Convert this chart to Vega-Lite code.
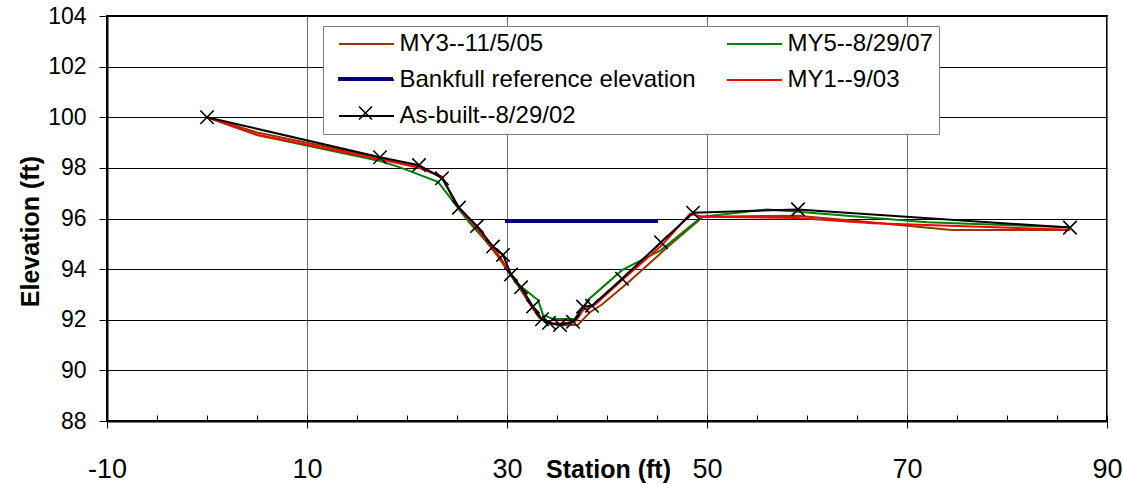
{
  "$schema": "https://vega.github.io/schema/vega-lite/v6.json",
  "width": 1000,
  "height": 405,
  "autosize": {"type": "none"},
  "padding": {"left": 107, "top": 16, "right": 16, "bottom": 63},
  "config": {
    "font": "Liberation Sans",
    "view": {"stroke": "#000000", "strokeWidth": 2}
  },
  "datasets": {
    "profile": [
      {"series": "Bankfull reference elevation", "station": 29.8, "elevation": 95.9},
      {"series": "Bankfull reference elevation", "station": 45.1, "elevation": 95.9},

      {"series": "MY3--11/5/05", "station": 0, "elevation": 100},
      {"series": "MY3--11/5/05", "station": 5, "elevation": 99.4},
      {"series": "MY3--11/5/05", "station": 17.3, "elevation": 98.4},
      {"series": "MY3--11/5/05", "station": 21.2, "elevation": 98.05},
      {"series": "MY3--11/5/05", "station": 23.5, "elevation": 97.65},
      {"series": "MY3--11/5/05", "station": 25.3, "elevation": 96.3},
      {"series": "MY3--11/5/05", "station": 27.2, "elevation": 95.45},
      {"series": "MY3--11/5/05", "station": 29.0, "elevation": 94.55},
      {"series": "MY3--11/5/05", "station": 30.5, "elevation": 93.7},
      {"series": "MY3--11/5/05", "station": 32.0, "elevation": 92.8},
      {"series": "MY3--11/5/05", "station": 33.2, "elevation": 92.1},
      {"series": "MY3--11/5/05", "station": 34.2, "elevation": 91.85},
      {"series": "MY3--11/5/05", "station": 35.5, "elevation": 91.78},
      {"series": "MY3--11/5/05", "station": 37.1, "elevation": 91.8},
      {"series": "MY3--11/5/05", "station": 38.3, "elevation": 92.3},
      {"series": "MY3--11/5/05", "station": 39.5, "elevation": 92.6},
      {"series": "MY3--11/5/05", "station": 42.2, "elevation": 93.5},
      {"series": "MY3--11/5/05", "station": 46.0, "elevation": 94.85},
      {"series": "MY3--11/5/05", "station": 49.6, "elevation": 96.07},
      {"series": "MY3--11/5/05", "station": 59.0, "elevation": 96.11},
      {"series": "MY3--11/5/05", "station": 65.0, "elevation": 95.9},
      {"series": "MY3--11/5/05", "station": 74.5, "elevation": 95.55},
      {"series": "MY3--11/5/05", "station": 86.3, "elevation": 95.55},

      {"series": "MY5--8/29/07", "station": 0, "elevation": 100},
      {"series": "MY5--8/29/07", "station": 5.0, "elevation": 99.3},
      {"series": "MY5--8/29/07", "station": 17.3, "elevation": 98.27},
      {"series": "MY5--8/29/07", "station": 19.3, "elevation": 98.02},
      {"series": "MY5--8/29/07", "station": 23.1, "elevation": 97.45},
      {"series": "MY5--8/29/07", "station": 26.3, "elevation": 95.81},
      {"series": "MY5--8/29/07", "station": 29.3, "elevation": 94.49},
      {"series": "MY5--8/29/07", "station": 30.8, "elevation": 93.5},
      {"series": "MY5--8/29/07", "station": 33.1, "elevation": 92.78},
      {"series": "MY5--8/29/07", "station": 33.6, "elevation": 92.19},
      {"series": "MY5--8/29/07", "station": 34.6, "elevation": 92.03},
      {"series": "MY5--8/29/07", "station": 37.0, "elevation": 92.03},
      {"series": "MY5--8/29/07", "station": 38.1, "elevation": 92.78},
      {"series": "MY5--8/29/07", "station": 41.5, "elevation": 93.96},
      {"series": "MY5--8/29/07", "station": 45.4, "elevation": 94.75},
      {"series": "MY5--8/29/07", "station": 49.5, "elevation": 96.07},
      {"series": "MY5--8/29/07", "station": 56.0, "elevation": 96.36},
      {"series": "MY5--8/29/07", "station": 59.1, "elevation": 96.27},
      {"series": "MY5--8/29/07", "station": 72.0, "elevation": 95.85},
      {"series": "MY5--8/29/07", "station": 86.3, "elevation": 95.65},

      {"series": "MY1--9/03", "station": 0, "elevation": 100},
      {"series": "MY1--9/03", "station": 5.1, "elevation": 99.3},
      {"series": "MY1--9/03", "station": 17.3, "elevation": 98.34},
      {"series": "MY1--9/03", "station": 21.2, "elevation": 98.0},
      {"series": "MY1--9/03", "station": 23.5, "elevation": 97.65},
      {"series": "MY1--9/03", "station": 25.0, "elevation": 96.5},
      {"series": "MY1--9/03", "station": 26.8, "elevation": 95.7},
      {"series": "MY1--9/03", "station": 28.5, "elevation": 94.85},
      {"series": "MY1--9/03", "station": 30.2, "elevation": 93.9},
      {"series": "MY1--9/03", "station": 31.3, "elevation": 93.3},
      {"series": "MY1--9/03", "station": 32.5, "elevation": 92.5},
      {"series": "MY1--9/03", "station": 33.4, "elevation": 92.0},
      {"series": "MY1--9/03", "station": 34.5, "elevation": 91.86},
      {"series": "MY1--9/03", "station": 35.5, "elevation": 91.85},
      {"series": "MY1--9/03", "station": 36.8, "elevation": 91.92},
      {"series": "MY1--9/03", "station": 37.6, "elevation": 92.38},
      {"series": "MY1--9/03", "station": 38.8, "elevation": 92.6},
      {"series": "MY1--9/03", "station": 41.6, "elevation": 93.6},
      {"series": "MY1--9/03", "station": 45.5, "elevation": 94.95},
      {"series": "MY1--9/03", "station": 48.3, "elevation": 96.18},
      {"series": "MY1--9/03", "station": 49.6, "elevation": 96.07},
      {"series": "MY1--9/03", "station": 59.0, "elevation": 96.02},
      {"series": "MY1--9/03", "station": 66.6, "elevation": 95.81},
      {"series": "MY1--9/03", "station": 86.3, "elevation": 95.56},

      {"series": "As-built--8/29/02", "station": 0, "elevation": 100},
      {"series": "As-built--8/29/02", "station": 17.3, "elevation": 98.42},
      {"series": "As-built--8/29/02", "station": 21.2, "elevation": 98.11},
      {"series": "As-built--8/29/02", "station": 23.5, "elevation": 97.59},
      {"series": "As-built--8/29/02", "station": 25.2, "elevation": 96.43},
      {"series": "As-built--8/29/02", "station": 27.0, "elevation": 95.7},
      {"series": "As-built--8/29/02", "station": 28.6, "elevation": 94.89},
      {"series": "As-built--8/29/02", "station": 29.6, "elevation": 94.56},
      {"series": "As-built--8/29/02", "station": 30.4, "elevation": 93.79},
      {"series": "As-built--8/29/02", "station": 31.4, "elevation": 93.28},
      {"series": "As-built--8/29/02", "station": 32.6, "elevation": 92.52},
      {"series": "As-built--8/29/02", "station": 33.5, "elevation": 92.02},
      {"series": "As-built--8/29/02", "station": 34.2, "elevation": 91.88},
      {"series": "As-built--8/29/02", "station": 35.3, "elevation": 91.79},
      {"series": "As-built--8/29/02", "station": 36.6, "elevation": 91.92},
      {"series": "As-built--8/29/02", "station": 37.6, "elevation": 92.52},
      {"series": "As-built--8/29/02", "station": 38.5, "elevation": 92.55},
      {"series": "As-built--8/29/02", "station": 41.5, "elevation": 93.62},
      {"series": "As-built--8/29/02", "station": 45.4, "elevation": 95.06},
      {"series": "As-built--8/29/02", "station": 48.6, "elevation": 96.23},
      {"series": "As-built--8/29/02", "station": 59.1, "elevation": 96.36},
      {"series": "As-built--8/29/02", "station": 86.3, "elevation": 95.64}
    ]
  },
  "data": {"name": "profile"},
  "layer": [
    {
      "transform": [{"filter": "datum.series !== 'Bankfull reference elevation'"}],
      "mark": {"type": "line", "strokeWidth": 2},
      "encoding": {
        "x": {
          "field": "station", "type": "quantitative",
          "scale": {"domain": [-10, 90], "nice": false, "zero": false},
          "axis": {
            "title": "Station (ft)",
            "values": [-10, 10, 30, 50, 70, 90],
            "labelExpr": "'' + datum.value",
            "grid": true, "gridColor": "#707070", "gridWidth": 1, "gridOpacity": 1,
            "domainColor": "#000000", "domainWidth": 2,
            "tickColor": "#000000", "tickSize": 7, "tickWidth": 1,
            "labelFontSize": 27, "labelColor": "#000000", "labelBaseline": "alphabetic",
            "labelPadding": 49, "labelFlush": false,
            "titleFontSize": 25, "titleFontWeight": "bold", "titleColor": "#000000",
            "titleX": 501, "titleY": 56, "titleBaseline": "alphabetic", "titleAnchor": "middle"
          }
        },
        "y": {
          "field": "elevation", "type": "quantitative",
          "scale": {"domain": [88, 104], "nice": false, "zero": false},
          "axis": {
            "title": "Elevation (ft)",
            "values": [88, 90, 92, 94, 96, 98, 100, 102, 104],
            "grid": true, "gridColor": "#000000", "gridWidth": 1, "gridOpacity": 1,
            "domainColor": "#000000", "domainWidth": 2,
            "tickColor": "#000000", "tickSize": 8, "tickWidth": 1,
            "labelFontSize": 23, "labelColor": "#000000", "labelPadding": 13,
            "titleFontSize": 25, "titleFontWeight": "bold", "titleColor": "#000000",
            "titleX": -77, "titleY": 215, "titleAngle": -90, "titleBaseline": "middle", "titleAlign": "center"
          }
        },
        "color": {
          "field": "series", "type": "nominal",
          "scale": {
            "domain": ["MY3--11/5/05", "Bankfull reference elevation", "As-built--8/29/02", "MY5--8/29/07", "MY1--9/03"],
            "range": ["#993300", "#000080", "#000000", "#008000", "#FF0000"]
          },
          "legend": {
            "title": null,
            "orient": "none",
            "legendX": 216,
            "legendY": 10,
            "direction": "vertical",
            "columns": 2,
            "gridAlign": "all",
            "columnPadding": 21,
            "rowPadding": 12,
            "padding": 6,
            "fillColor": "#FFFFFF",
            "strokeColor": "#808080",
            "labelFontSize": 24,
            "labelColor": "#000000",
            "labelLimit": 400,
            "labelOffset": 21,
            "symbolSize": 400,
            "symbolOffset": 25.5,
            "symbolType": "M-2.75,0H2.75",
            "symbolStrokeWidth": 2,
            "zindex": 1
          }
        }
      }
    },
    {
      "transform": [{"filter": "datum.series === 'Bankfull reference elevation'"}],
      "mark": {"type": "line", "color": "#000080"},
      "encoding": {
        "x": {"field": "station", "type": "quantitative", "axis": null},
        "y": {"field": "elevation", "type": "quantitative"},
        "strokeWidth": {
          "field": "series", "type": "nominal",
          "scale": {"type": "point", "domain": ["Bankfull reference elevation"], "range": [4, 4]},
          "legend": {
            "title": null,
            "orient": "none",
            "legendX": 246.5,
            "legendY": 51,
            "padding": 0,
            "symbolSize": 400,
            "symbolOffset": 0,
            "symbolType": "M-2.75,0H2.75",
            "symbolStrokeWidth": 4,
            "symbolStrokeColor": "#000080",
            "labelOpacity": 0,
            "labelFontSize": 2,
            "labelOffset": 0,
            "zindex": 5
          }
        }
      }
    },
    {
      "transform": [{"filter": "datum.series === 'As-built--8/29/02'"}],
      "mark": {
        "type": "point",
        "filled": false,
        "color": "#000000",
        "strokeWidth": 1.6,
        "size": 180,
        "opacity": 1
      },
      "encoding": {
        "x": {"field": "station", "type": "quantitative", "axis": null},
        "y": {"field": "elevation", "type": "quantitative"},
        "shape": {
          "field": "series", "type": "nominal",
          "scale": {"domain": ["As-built--8/29/02"], "range": ["M-1,-1L1,1M-1,1L1,-1"]},
          "legend": {
            "title": null,
            "orient": "none",
            "legendX": 251,
            "legendY": 89.5,
            "padding": 0,
            "symbolSize": 169,
            "symbolStrokeWidth": 1.6,
            "symbolStrokeColor": "#000000",
            "labelOpacity": 0,
            "labelFontSize": 2,
            "labelOffset": 0,
            "zindex": 5
          }
        }
      }
    },
    {
      "transform": [{"filter": "datum.series === 'As-built--8/29/02'"}],
      "mark": {"type": "point", "opacity": 0},
      "encoding": {
        "x": {
          "field": "station", "type": "quantitative",
          "axis": {
            "orient": "bottom",
            "values": [-10, -5, 0, 5, 10, 15, 20, 25, 30, 35, 40, 45, 50, 55, 60, 65, 70, 75, 80, 85, 90],
            "labels": false, "domain": false, "grid": false, "title": null,
            "tickColor": "#000000", "tickSize": -6, "tickWidth": 1
          }
        },
        "y": {"field": "elevation", "type": "quantitative"}
      }
    }
  ],
  "resolve": {"axis": {"x": "independent"}}
}
